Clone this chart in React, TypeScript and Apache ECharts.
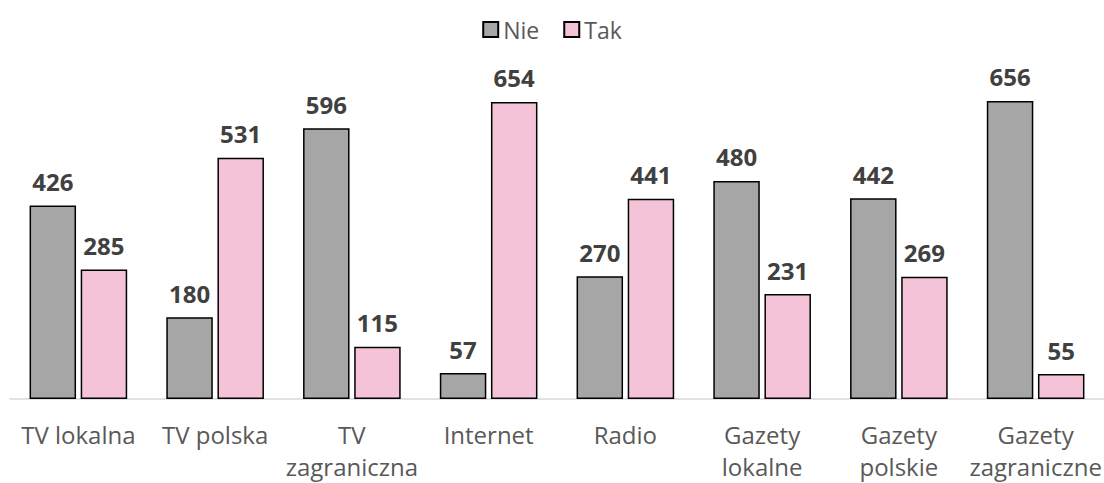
import React, { useEffect, useRef } from "react";
import * as echarts from "echarts";

const categories = [
  "TV lokalna",
  "TV polska",
  "TV\nzagraniczna",
  "Internet",
  "Radio",
  "Gazety\nlokalne",
  "Gazety\npolskie",
  "Gazety\nzagraniczne",
];
const nieValues = [426, 180, 596, 57, 270, 480, 442, 656];
const takValues = [285, 531, 115, 654, 441, 231, 269, 55];

export default function App() {
  const ref = useRef<HTMLDivElement>(null);
  useEffect(() => {
    if (!ref.current) return;
    const chart = echarts.init(ref.current, null, { renderer: "svg" });
    const font = "'Open Sans', sans-serif";
    const label = {
      show: true,
      position: "top",
      distance: 12,
      fontSize: 24,
      fontWeight: "bold",
      color: "#404040",
      fontFamily: font,
    };
    chart.setOption({
      animation: false,
      legend: {
        top: 13,
        left: "center",
        icon: "rect",
        itemWidth: 15,
        itemHeight: 15,
        itemGap: 24,
        textStyle: { fontSize: 23, color: "#595959", fontFamily: font },
        data: ["Nie", "Tak"],
      },
      grid: { left: 10, right: 0, top: 81, bottom: 84, outerBoundsMode: "none", containLabel: false },
      xAxis: {
        type: "category",
        data: categories,
        axisLine: { lineStyle: { color: "#d9d9d9", width: 1.5 } },
        axisTick: { show: false },
        axisLabel: {
          fontSize: 24,
          color: "#595959",
          fontFamily: font,
          lineHeight: 32,
          margin: 19,
          interval: 0,
        },
      },
      yAxis: {
        type: "value",
        min: 0,
        max: 700,
        show: false,
        splitLine: { show: false },
      },
      series: [
        {
          name: "Nie",
          type: "bar",
          data: nieValues,
          barWidth: "34%",
          barGap: "10%",
          itemStyle: { color: "#a6a6a6", borderColor: "#000", borderWidth: 1.5 },
          label,
        },
        {
          name: "Tak",
          type: "bar",
          data: takValues,
          barWidth: "34%",
          itemStyle: { color: "#f5c3d8", borderColor: "#000", borderWidth: 1.5 },
          label,
        },
      ],
    });
    return () => chart.dispose();
  }, []);
  return <div ref={ref} style={{ width: 1104, height: 483, position: "absolute", left: 0, top: 0 }} />;
}
